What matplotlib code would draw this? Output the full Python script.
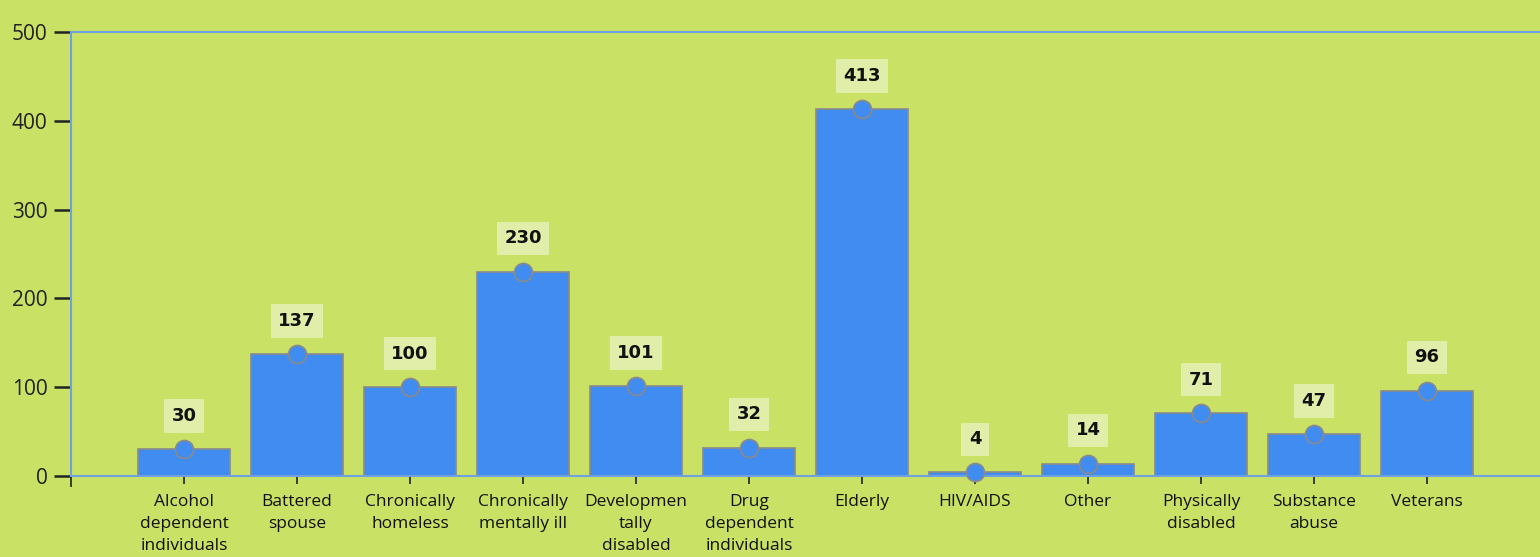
import numpy as np
import matplotlib
matplotlib.use('Agg')
import matplotlib.pyplot as plt

categories = ['Alcohol\ndependent\nindividuals', 'Battered\nspouse', 'Chronically\nhomeless',
              'Chronically\nmentally ill', 'Developmen\ntally\ndisabled', 'Drug\ndependent\nindividuals',
              'Elderly', 'HIV/AIDS', 'Other', 'Physically\ndisabled', 'Substance\nabuse', 'Veterans']
counts = [30, 137, 100, 230, 101, 32, 413, 4, 14, 71, 47, 96]

bg = '#c9e265'
bar_color = '#418cf0'
spine_color = '#6fa0e0'

plt.rcParams['font.family'] = ['Open Sans', 'DejaVu Sans']

fig = plt.figure(figsize=(15.4, 5.57), dpi=100, facecolor=bg)
ax = fig.add_axes([71 / 1540, 81 / 557, 1 - 71 / 1540, (476 - 32) / 557])
ax.set_facecolor(bg)

x = np.arange(len(categories))
ax.bar(x, counts, width=0.81, color=bar_color, edgecolor='#8a8a8a', linewidth=1.2, zorder=2)
ax.plot(x, counts, 'o', markersize=13, markerfacecolor=bar_color,
        markeredgecolor='#8a8a8a', markeredgewidth=1.2, zorder=3, clip_on=False)

for xi, v in zip(x, counts):
    ax.annotate(str(v), (xi, v), xytext=(0, 24), textcoords='offset points',
                ha='center', va='center', fontsize=13, fontweight='bold', family='DejaVu Sans',
                color='#111111',
                bbox=dict(boxstyle='square,pad=0.42', facecolor='#e0eeaa', edgecolor='none'))

ax.set_xlim(-1, 12)
ax.set_ylim(0, 500)
ax.set_yticks([0, 100, 200, 300, 400, 500])
ax.set_xticks(list(x))
ax.set_xticks([-1], minor=True)
ax.set_xticklabels(categories, fontsize=12.5, linespacing=1.5)
ax.tick_params(axis='y', length=12, width=1.8, color='#222222', labelsize=15, pad=5, labelcolor='#222222')
ax.tick_params(axis='x', which='both', length=6, width=1.2, color='#222222', pad=7, labelcolor='#111111')
ax.tick_params(axis='x', which='minor', length=8)

for side in ['left', 'top', 'bottom']:
    ax.spines[side].set_color(spine_color)
    ax.spines[side].set_linewidth(1.5)
ax.spines['right'].set_visible(False)

fig.savefig('out.png', dpi=100, facecolor=bg)
